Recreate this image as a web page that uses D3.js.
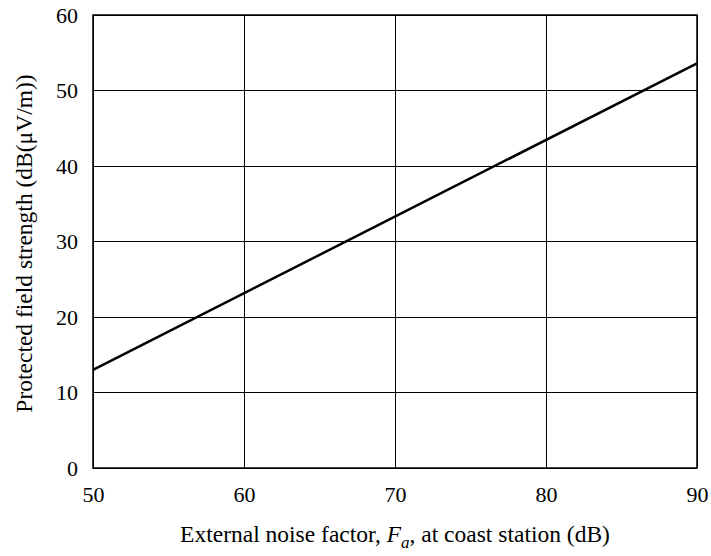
<!DOCTYPE html>
<html><head><meta charset="utf-8">
<script src="https://cdn.jsdelivr.net/npm/d3@7"></script>
<style>body{margin:0;background:#fff}svg{display:block}text{font-family:"Liberation Serif","Times New Roman",serif;fill:#000}</style>
</head><body><svg id="c" width="711" height="556"></svg>
<script>
const xTicks = [50, 60, 70, 80, 90];
const yTicks = [0, 10, 20, 30, 40, 50, 60];
const noiseFactor = [50, 90];
const fieldStrength = [13.0, 53.6];

const W = 711, H = 556;
const m = {l: 93, r: 711 - 697, t: 15, b: 556 - 468};
const svg = d3.select("#c");
const x = d3.scaleLinear().domain([50, 90]).range([m.l, W - m.r]);
const y = d3.scaleLinear().domain([0, 60]).range([H - m.b, m.t]);

const g = svg.append("g");
g.selectAll(".vg").data(xTicks).join("line")
  .attr("x1", d => x(d)).attr("x2", d => x(d))
  .attr("y1", y(0)).attr("y2", y(60))
  .attr("stroke", "#000").attr("stroke-width", 1).attr("shape-rendering", "crispEdges");
g.selectAll(".hg").data(yTicks).join("line")
  .attr("x1", x(50)).attr("x2", x(90))
  .attr("y1", d => y(d)).attr("y2", d => y(d))
  .attr("stroke", "#000").attr("stroke-width", 1).attr("shape-rendering", "crispEdges");
g.append("rect").attr("x", x(50)).attr("y", y(60)).attr("width", x(90) - x(50)).attr("height", y(0) - y(60))
  .attr("fill", "none").attr("stroke", "#000").attr("stroke-width", 1.5);

const ax = svg.append("g").attr("transform", `translate(0,${y(0)})`)
  .call(d3.axisBottom(x).tickValues(xTicks).tickSize(0).tickPadding(18).tickFormat(d3.format("d")));
ax.select(".domain").remove();
ax.selectAll("text").attr("font-size", 22).style("font-family", '"Liberation Serif",serif');

const ay = svg.append("g").attr("transform", `translate(${x(50)},0)`)
  .call(d3.axisLeft(y).tickValues(yTicks).tickSize(0).tickPadding(15).tickFormat(d3.format("d")));
ay.select(".domain").remove();
ay.selectAll("text").attr("font-size", 22).style("font-family", '"Liberation Serif",serif');

const line = d3.line().x(d => x(d[0])).y(d => y(d[1]));
svg.append("path").datum(noiseFactor.map((v, i) => [v, fieldStrength[i]]))
  .attr("d", line).attr("fill", "none").attr("stroke", "#000").attr("stroke-width", 2.5);

const xl = svg.append("text").attr("x", (x(50) + x(90)) / 2).attr("y", 542)
  .attr("text-anchor", "middle").attr("font-size", 23.5);
xl.append("tspan").text("External noise factor, ");
xl.append("tspan").attr("font-style", "italic").text("F");
xl.append("tspan").attr("font-style", "italic").attr("font-size", 17).attr("dy", 6).text("a");
xl.append("tspan").attr("dy", -6).text(", at coast station (dB)");

svg.append("text").attr("transform", `translate(32,${(y(0) + y(60)) / 2 + 2}) rotate(-90)`)
  .attr("text-anchor", "middle").attr("font-size", 23.5).text("Protected field strength (dB(μV/m))");
</script></body></html>
